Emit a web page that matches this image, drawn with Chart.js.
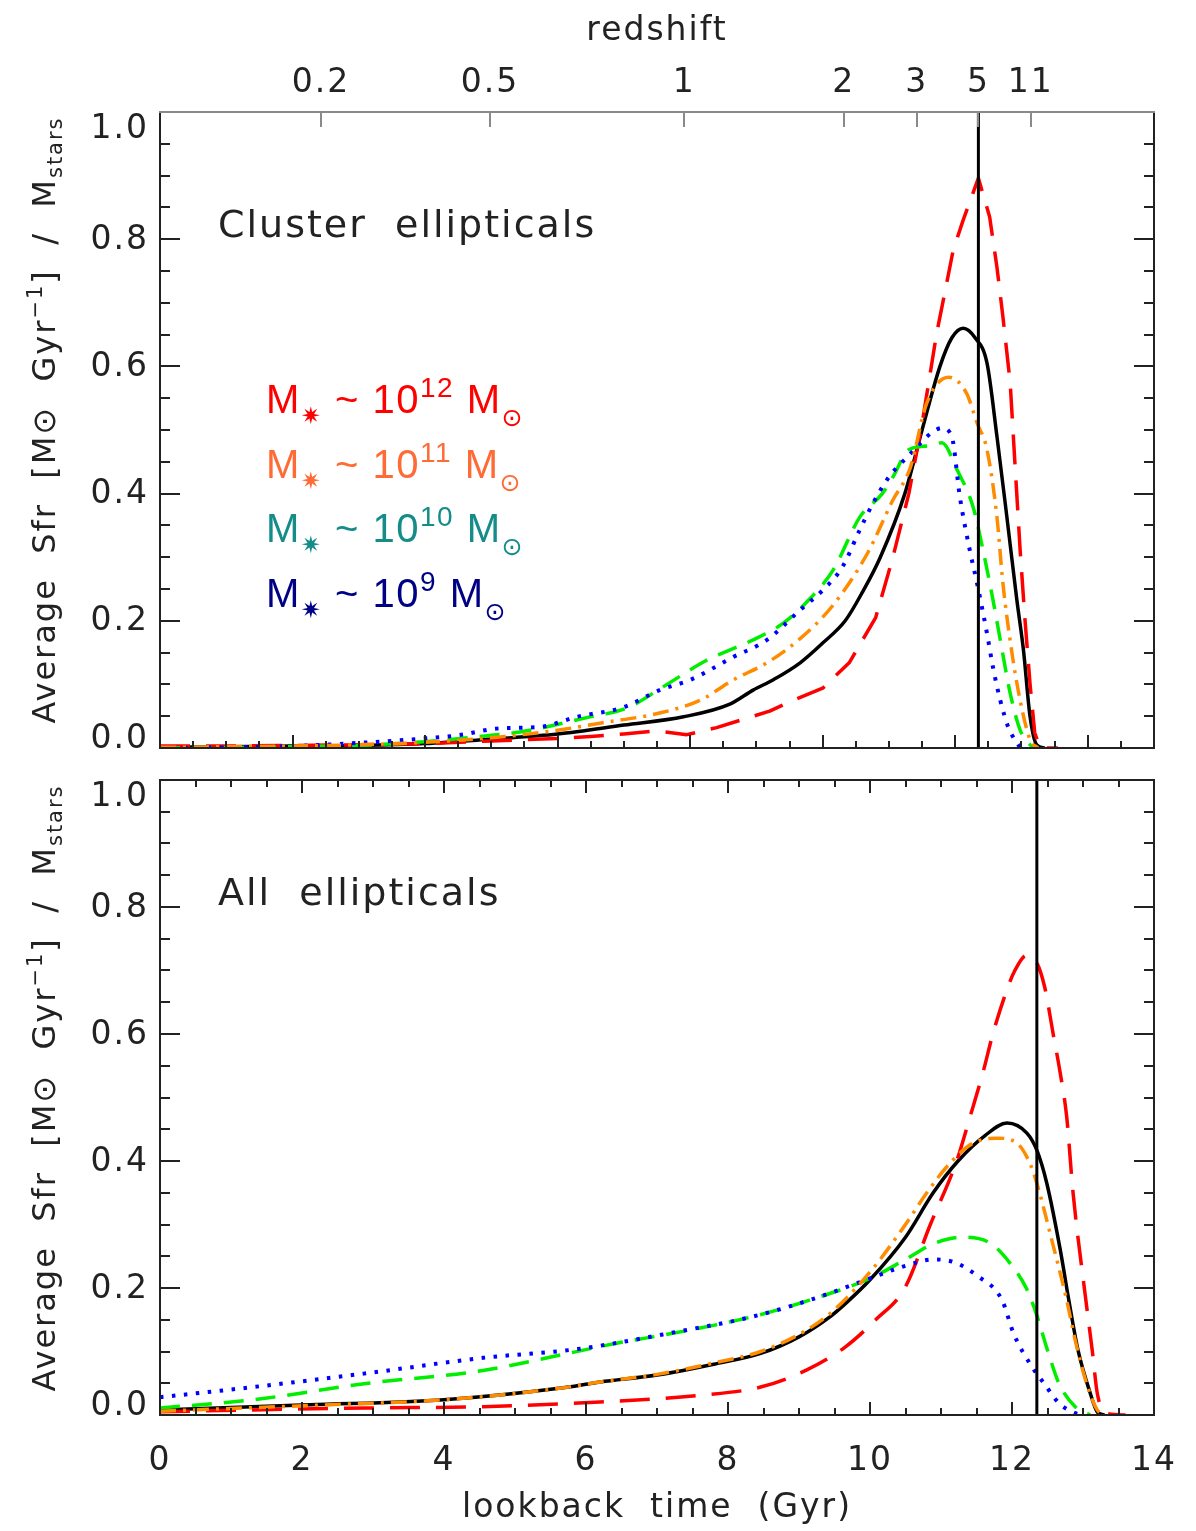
<!DOCTYPE html>
<html>
<head>
<meta charset="utf-8">
<title>Average star formation rate of ellipticals</title>
<script src="https://cdn.jsdelivr.net/npm/chart.js@4.4.1/dist/chart.umd.min.js"></script>
<style>
  html, body { margin: 0; padding: 0; background: #fff; }
  #wrap { position: relative; width: 1196px; height: 1531px; }
  canvas { position: absolute; left: 0; }
  #chart_cluster { top: 0; }
  #chart_all { top: 765px; }
</style>
</head>
<body>
<div id="wrap">
  <canvas id="chart_cluster" width="1196" height="765"></canvas>
  <canvas id="chart_all" width="1196" height="766"></canvas>
</div>
<script>
// ---- cluster ellipticals: lookback time (Gyr) / average SFR per stellar mass ----
const clusterTime12 = [0, 1, 2, 3, 4, 5, 6, 6.5, 7.0, 7.5, 7.95, 8.4, 8.8, 9.2, 9.55, 10.0, 10.4, 10.8, 11.06, 11.3, 11.5, 11.72, 11.87, 11.97, 12.12, 12.35, 12.52, 12.63, 12.72, 12.83, 12.9, 12.98, 13.05, 13.13, 13.2, 13.28, 13.55];
const clusterSfr12  = [0.003, 0.003, 0.004, 0.005, 0.007, 0.011, 0.015, 0.018, 0.022, 0.027, 0.021, 0.032, 0.045, 0.058, 0.075, 0.094, 0.134, 0.205, 0.30, 0.40, 0.51, 0.652, 0.73, 0.783, 0.83, 0.896, 0.835, 0.756, 0.678, 0.574, 0.45, 0.311, 0.206, 0.10, 0.024, 0, 0];

const clusterTime11 = [0, 1, 2, 3, 4, 5, 6, 6.64, 7.54, 8.15, 8.65, 9.16, 9.66, 10.16, 10.67, 11.06, 11.32, 11.57, 11.9, 12.17, 12.33, 12.48, 12.63, 12.72, 12.85, 12.98, 13.13, 13.25];
const clusterSfr11  = [0.001, 0.002, 0.003, 0.005, 0.009, 0.016, 0.028, 0.039, 0.055, 0.075, 0.107, 0.134, 0.172, 0.225, 0.305, 0.39, 0.44, 0.542, 0.583, 0.558, 0.511, 0.469, 0.363, 0.259, 0.154, 0.075, 0.013, 0];

const clusterTime10 = [0, 1, 2, 3, 4, 5, 5.43, 6.49, 7.05, 7.65, 8.25, 8.95, 9.4, 9.81, 10.16, 10.56, 10.9, 11.06, 11.3, 11.6, 11.8, 12.03, 12.27, 12.42, 12.57, 12.68, 12.83, 12.98, 13.13, 13.2];
const clusterSfr10  = [0, 0.001, 0.002, 0.004, 0.01, 0.02, 0.025, 0.049, 0.063, 0.1, 0.138, 0.17, 0.196, 0.235, 0.28, 0.363, 0.40, 0.426, 0.469, 0.475, 0.48, 0.437, 0.379, 0.311, 0.233, 0.17, 0.086, 0.028, 0.005, 0];

const clusterTime9 = [0, 1, 2, 3, 4, 4.5, 5.13, 5.73, 6.29, 6.99, 7.54, 8.0, 8.65, 9.16, 9.66, 10.0, 10.3, 10.56, 10.76, 11.0, 11.3, 11.66, 11.8, 11.95, 12.07, 12.22, 12.33, 12.48, 12.57, 12.68, 12.8, 12.98];
const clusterSfr9  = [0, 0.001, 0.003, 0.008, 0.015, 0.02, 0.031, 0.033, 0.049, 0.064, 0.091, 0.107, 0.143, 0.17, 0.217, 0.248, 0.285, 0.343, 0.385, 0.426, 0.46, 0.497, 0.503, 0.489, 0.395, 0.311, 0.259, 0.18, 0.127, 0.075, 0.033, 0];

const clusterTimeAll = [0, 1, 2, 3, 4, 5, 6, 7, 7.9, 8.6, 8.95, 9.25, 9.66, 10.0, 10.34, 10.6, 10.87, 11.24, 11.5, 11.77, 11.95, 12.12, 12.3, 12.48, 12.63, 12.78, 12.93, 13.03, 13.13, 13.23, 13.35];
const clusterSfrAll  = [0.001, 0.002, 0.003, 0.004, 0.007, 0.014, 0.022, 0.036, 0.049, 0.069, 0.091, 0.107, 0.134, 0.165, 0.2, 0.245, 0.3, 0.4, 0.5, 0.6, 0.645, 0.66, 0.645, 0.605, 0.49, 0.363, 0.233, 0.154, 0.049, 0.005, 0];

// ---- all ellipticals ----
const allTime12 = [0, 1.3, 2.9, 4.55, 5.9, 7.6, 8.46, 9.11, 9.65, 10.08, 10.49, 10.85, 11.22, 11.41, 11.6, 11.73, 11.93, 12.04, 12.21, 12.35, 12.46, 12.58, 12.68, 12.77, 12.86, 13.04, 13.13, 13.2, 13.31, 13.6];
const allSfr12  = [0.005, 0.008, 0.011, 0.013, 0.019, 0.031, 0.044, 0.071, 0.107, 0.15, 0.2, 0.3, 0.4, 0.47, 0.543, 0.60, 0.67, 0.70, 0.724, 0.712, 0.674, 0.60, 0.538, 0.47, 0.35, 0.181, 0.102, 0.035, 0.003, 0];

const allTime11 = [0, 2.1, 4.0, 5.62, 6.2, 7.0, 7.8, 8.46, 9.0, 9.44, 10.0, 10.5, 10.8, 11.13, 11.45, 11.79, 12.07, 12.25, 12.35, 12.55, 12.77, 12.89, 13.05, 13.2, 13.3];
const allSfr11  = [0.006, 0.015, 0.024, 0.042, 0.052, 0.064, 0.082, 0.1, 0.127, 0.16, 0.225, 0.30, 0.35, 0.397, 0.428, 0.436, 0.428, 0.397, 0.365, 0.28, 0.181, 0.118, 0.05, 0.008, 0];

const allTime10 = [0, 1.31, 2.93, 4.55, 5.62, 6.43, 7.24, 8.35, 9.15, 10.0, 10.5, 10.9, 11.3, 11.7, 12.0, 12.2, 12.34, 12.5, 12.66, 12.89, 13.04, 13.1];
const allSfr10  = [0.011, 0.024, 0.05, 0.07, 0.094, 0.113, 0.129, 0.155, 0.181, 0.215, 0.245, 0.27, 0.28, 0.27, 0.235, 0.2, 0.16, 0.102, 0.05, 0.013, 0.003, 0];

const allTime9 = [0, 1.31, 2.93, 4.55, 5.89, 7.28, 8.35, 9.15, 10.0, 10.5, 10.9, 11.2, 11.5, 11.86, 12.02, 12.28, 12.45, 12.66, 12.89, 13.0];
const allSfr9  = [0.028, 0.044, 0.066, 0.09, 0.104, 0.131, 0.155, 0.181, 0.215, 0.235, 0.245, 0.24, 0.22, 0.181, 0.129, 0.076, 0.05, 0.019, 0.003, 0];

const allTimeAll = [0, 2.1, 4.0, 5.62, 6.2, 7.0, 7.8, 8.46, 9.0, 9.44, 9.65, 10.0, 10.5, 10.89, 11.24, 11.62, 11.93, 12.21, 12.35, 12.49, 12.68, 12.8, 12.93, 13.1, 13.2, 13.3];
const allSfrAll  = [0.008, 0.016, 0.024, 0.042, 0.052, 0.063, 0.08, 0.097, 0.123, 0.155, 0.175, 0.213, 0.28, 0.35, 0.40, 0.44, 0.46, 0.444, 0.417, 0.365, 0.26, 0.181, 0.102, 0.035, 0.005, 0];

// redshift axis: lookback time of each labelled redshift
const redshiftLabels   = ['0.2', '0.5', '1', '2', '3', '5', '11'];
const redshiftLookback = [2.43, 4.98, 7.91, 10.32, 11.42, 12.35, 13.14];
const zFiveLookback = 12.35;

const yTicks = [0, 0.2, 0.4, 0.6, 0.8, 1.0];
const legendExponents = ['12', '11', '10', '9'];

// ---- styling ----
const IDL_FONT = 'DejaVu Sans';
const INK = '#222222';
const legendColors = ['#ff0000', '#ff6b35', '#148c89', '#000085'];

Chart.defaults.font.family = IDL_FONT;
Chart.defaults.color = INK;

function series(times, values, color, dash, width, straight) {
    return {
        data: times.map((t, i) => ({ x: t, y: values[i] })),
        borderColor: color,
        borderWidth: width || 3.5,
        borderDash: dash || [],
        borderCapStyle: 'butt',
        borderJoinStyle: 'round',
        pointRadius: 0,
        fill: false,
        tension: 0,
        cubicInterpolationMode: straight ? 'default' : 'monotone'
    };
}

function verticalLine(t) {
    return {
        data: [{ x: t, y: 0 }, { x: t, y: 1 }],
        borderColor: '#000', borderWidth: 3, pointRadius: 0, fill: false
    };
}

// draws text pieces (sub/superscripts) one after another, returns the end x
function drawPieces(ctx, x, y, pieces, color, family) {
    ctx.fillStyle = color;
    ctx.textBaseline = 'alphabetic';
    ctx.textAlign = 'left';
    for (const p of pieces) {
        ctx.font = p.size + 'px "' + (p.family || family) + '"';
        ctx.fillText(p.text, x, y + (p.dy || 0));
        x += ctx.measureText(p.text).width;
    }
    return x;
}

function piecesWidth(ctx, pieces, family) {
    let w = 0;
    for (const p of pieces) {
        ctx.font = p.size + 'px "' + (p.family || family) + '"';
        w += ctx.measureText(p.text).width;
    }
    return w;
}

const yTitlePieces = [
    { text: 'Average  Sfr  [M', size: 32 },
    { text: '\u2299', size: 32 },
    { text: '  Gyr', size: 32 },
    { text: '\u22121', size: 21, dy: -13 },
    { text: ']  /  M', size: 32 },
    { text: 'stars', size: 21, dy: 7 }
];

// IDL style frame: inward ticks on all sides, y labels, rotated y title, panel label
function idlFrame(opts) {
    return {
        id: 'idlFrame',
        beforeDraw(chart) {
            chart.ctx.letterSpacing = '2px';
        },
        afterDraw(chart) {
            const ctx = chart.ctx, a = chart.chartArea;
            const xs = chart.scales.x, ys = chart.scales.y;
            const seg = (x1, y1, x2, y2, color) => {
                ctx.strokeStyle = color || INK;
                ctx.beginPath(); ctx.moveTo(x1, y1); ctx.lineTo(x2, y2); ctx.stroke();
            };
            ctx.save();
            ctx.lineWidth = 2;
            ctx.lineCap = 'butt';

            // time ticks every 0.5 Gyr, major every 2 Gyr
            for (let k = 0; k * 0.5 <= xs.max + 1e-9; k++) {
                const px = Math.round(xs.getPixelForValue(k * 0.5));
                const len = k % 4 === 0 ? 13 : 7;
                seg(px, a.bottom, px, a.bottom - len);
                if (opts.timeTicksTop) seg(px, a.top, px, a.top + len);
            }
            // redshift ticks along the top edge
            if (chart.scales.xz) {
                for (const t of chart.scales.xz.ticks) {
                    const px = Math.round(xs.getPixelForValue(t.value));
                    seg(px, a.top, px, a.top + 15, '#8a8a8a');
                }
            }
            // y ticks every 0.05, major every 0.2
            for (let k = 0; k <= 20; k++) {
                const py = Math.round(ys.getPixelForValue(k * 0.05));
                const len = k % 4 === 0 ? 20 : 10;
                seg(a.left, py, a.left + len, py);
                seg(a.right, py, a.right - len, py);
            }
            // frame
            seg(a.left, a.top, a.left, a.bottom);
            seg(a.right, a.top, a.right, a.bottom);
            seg(a.left - 1, a.bottom, a.right + 1, a.bottom);
            seg(a.left - 1, a.top, a.right + 1, a.top, opts.topColor || INK);

            // y tick labels
            ctx.font = '33px "' + IDL_FONT + '"';
            ctx.fillStyle = INK;
            ctx.textAlign = 'right';
            ctx.textBaseline = 'middle';
            for (const v of yTicks) {
                let py = ys.getPixelForValue(v);
                py = Math.min(Math.max(py, a.top + 16), a.bottom - 10);
                ctx.fillText(v.toFixed(1), a.left - 11, py + 1);
            }

            // rotated y title
            ctx.save();
            const tw = piecesWidth(ctx, yTitlePieces, IDL_FONT);
            ctx.translate(55, a.top + 308);
            ctx.rotate(-Math.PI / 2);
            drawPieces(ctx, -tw / 2, 0, yTitlePieces, INK, IDL_FONT);
            ctx.restore();

            // panel label
            ctx.font = '38px "' + IDL_FONT + '"';
            ctx.textAlign = 'left';
            ctx.textBaseline = 'alphabetic';
            ctx.fillText(opts.label, a.left + 58, a.top + 125);

            // stellar mass key
            if (opts.massKey) {
                ctx.letterSpacing = '1.5px';
                legendExponents.forEach((e, i) => {
                    const y = a.top + 301 + i * 64.7;
                    drawPieces(ctx, a.left + 106, y, [
                        { text: 'M', size: 40 },
                        { text: '\u2737', size: 24, dy: 11, family: 'DejaVu Sans' },
                        { text: ' ~ 10', size: 40 },
                        { text: e, size: 28, dy: -16 },
                        { text: ' M', size: 40 },
                        { text: '\u2299', size: 25, dy: 13, family: 'DejaVu Sans' }
                    ], legendColors[i], 'Liberation Sans');
                });
            }
            ctx.restore();
        }
    };
}

const commonOptions = {
    responsive: false,
    animation: false,
    devicePixelRatio: 1,
    plugins: { legend: { display: false }, tooltip: { enabled: false } },
    elements: { point: { radius: 0 } }
};

const hiddenGrid = { display: false, drawTicks: false };

function yScales() {
    return {
        y: {
            position: 'left', min: 0, max: 1,
            ticks: { display: false }, grid: hiddenGrid, border: { display: false },
            afterFit: s => { s.width = 160; }
        },
        yr: {
            position: 'right', min: 0, max: 1,
            ticks: { display: false }, grid: hiddenGrid, border: { display: false },
            afterFit: s => { s.width = 42; }
        }
    };
}

// upper panel, time axis runs 0-15 Gyr with redshift on top
new Chart(document.getElementById('chart_cluster'), {
    type: 'line',
    data: {
        datasets: [
            verticalLine(zFiveLookback),
            series(clusterTime11, clusterSfr11, '#ff8c00', [16, 7, 3, 7]),
            series(clusterTime9, clusterSfr9, '#0000ff', [3.5, 8.5], 4),
            series(clusterTime10, clusterSfr10, '#00ee00', [20, 12]),
            series(clusterTime12, clusterSfr12, '#ff0000', [30, 16], 3.5, true),
            series(clusterTimeAll, clusterSfrAll, '#000000', [], 3.5)
        ]
    },
    options: {
        ...commonOptions,
        layout: { padding: 0 },
        scales: {
            x: {
                type: 'linear', position: 'bottom', min: 0, max: 15,
                ticks: { display: false }, grid: hiddenGrid, border: { display: false },
                afterFit: s => { s.height = 765 - 748; }
            },
            xz: {
                type: 'linear', position: 'top', min: 0, max: 15,
                afterBuildTicks: s => { s.ticks = redshiftLookback.map(v => ({ value: v })); },
                ticks: {
                    autoSkip: false, maxRotation: 0, padding: 9,
                    font: { size: 33 }, color: INK,
                    callback: (value, index) => redshiftLabels[index]
                },
                grid: hiddenGrid, border: { display: false },
                title: { display: true, text: 'redshift', font: { size: 33 }, color: INK, padding: { top: 12, bottom: 0 } },
                afterFit: s => { s.height = 112; }
            },
            ...yScales()
        }
    },
    plugins: [idlFrame({ label: 'Cluster  ellipticals', massKey: true, topColor: '#8a8a8a' })]
});

// lower panel, time axis 0-14 Gyr
new Chart(document.getElementById('chart_all'), {
    type: 'line',
    data: {
        datasets: [
            verticalLine(zFiveLookback),
            series(allTime11, allSfr11, '#ff8c00', [16, 7, 3, 7]),
            series(allTime9, allSfr9, '#0000ff', [3.5, 8.5], 4),
            series(allTime10, allSfr10, '#00ee00', [20, 12]),
            series(allTime12, allSfr12, '#ff0000', [30, 16]),
            series(allTimeAll, allSfrAll, '#000000', [], 3.5)
        ]
    },
    options: {
        ...commonOptions,
        layout: { padding: { top: 15 } },
        scales: {
            x: {
                type: 'linear', position: 'bottom', min: 0, max: 14,
                // the label gap comes from an invisible tick length so it does not widen the side padding
                ticks: { stepSize: 2, autoSkip: false, maxRotation: 0, padding: 3, font: { size: 33 }, color: INK },
                grid: { display: false, drawTicks: true, tickLength: 24 }, border: { display: false },
                title: { display: true, text: 'lookback  time  (Gyr)', font: { size: 33 }, color: INK, padding: { top: 0, bottom: 3 } },
                afterFit: s => { s.height = 766 - 650; }
            },
            ...yScales()
        }
    },
    plugins: [idlFrame({ label: 'All  ellipticals', timeTicksTop: true })]
});
</script>
</body>
</html>
